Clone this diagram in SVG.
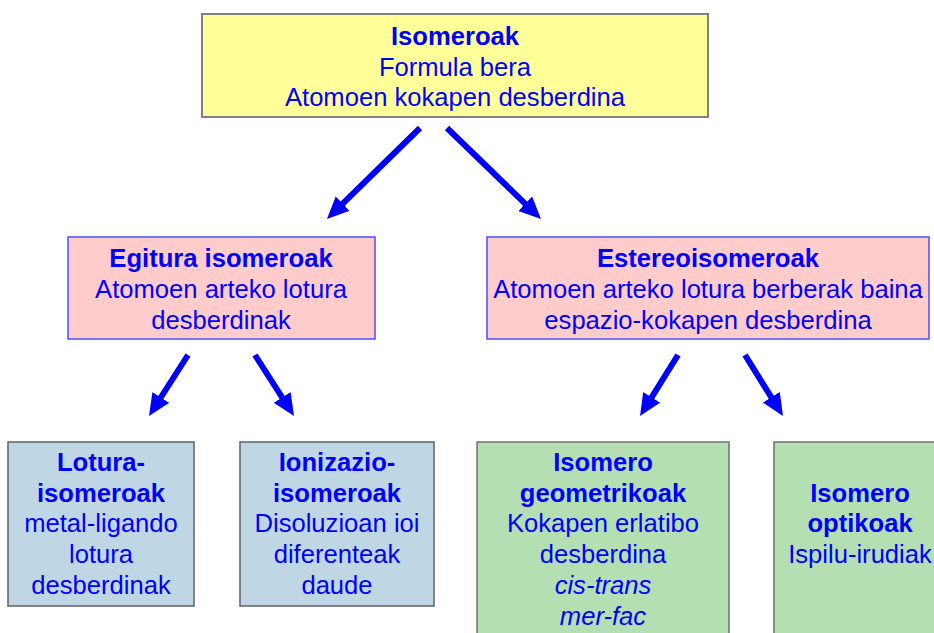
<svg xmlns="http://www.w3.org/2000/svg" width="934" height="633" viewBox="0 0 934 633">
<defs>
<marker id="ah" markerUnits="userSpaceOnUse" markerWidth="24" markerHeight="22" refX="6" refY="10" orient="auto">
<path d="M0,0 L22,10 L0,20 z" fill="#0000FF"/>
</marker>
<style>
text{font-family:"Liberation Sans",Arial,sans-serif;font-size:25.6px;fill:#0000FF;text-anchor:middle}
.b{font-weight:bold}
.i{font-style:italic}
.yel{fill:#FFFF99;stroke:#808080;stroke-width:2}
.pink{fill:#FFCCCC;stroke:#4D4DFF;stroke-width:1.5}
.blue{fill:#BFD7E4;stroke:#606060;stroke-width:1.5}
.green{fill:#B3DFB3;stroke:#707070;stroke-width:1.5}
.arr{stroke:#0000FF;stroke-width:6;fill:none;marker-end:url(#ah)}
</style>
</defs>
<rect width="934" height="633" fill="#FFFFFF"/>
<g id="connectors">
<line class="arr" x1="420" y1="128" x2="338.4" y2="207.8"/>
<line class="arr" x1="447" y1="128" x2="529.5" y2="207.9"/>
<line class="arr" x1="188" y1="355" x2="157.6" y2="402.5"/>
<line class="arr" x1="255" y1="355" x2="285.4" y2="402.5"/>
<line class="arr" x1="678" y1="355" x2="648.5" y2="402.4"/>
<line class="arr" x1="745" y1="355" x2="774.5" y2="402.4"/>
</g>
<g id="isomeroak">
<rect class="yel" x="202" y="14" width="506" height="103"/>
<text class="b" x="455" y="45">Isomeroak</text>
<text x="455" y="76">Formula bera</text>
<text x="455" y="106">Atomoen kokapen desberdina</text>
</g>
<g id="egitura">
<rect class="pink" x="68" y="237" width="307" height="102"/>
<text class="b" x="221" y="267">Egitura isomeroak</text>
<text x="221" y="298">Atomoen arteko lotura</text>
<text x="221" y="329">desberdinak</text>
</g>
<g id="estereo">
<rect class="pink" x="487" y="237" width="442" height="102"/>
<text class="b" x="708" y="267">Estereoisomeroak</text>
<text x="708" y="298">Atomoen arteko lotura berberak baina</text>
<text x="708" y="329">espazio-kokapen desberdina</text>
</g>
<g id="lotura">
<rect class="blue" x="8" y="442" width="186" height="164"/>
<text class="b" x="101" y="471">Lotura-</text>
<text class="b" x="101" y="502">isomeroak</text>
<text x="101" y="532">metal-ligando</text>
<text x="101" y="563">lotura</text>
<text x="101" y="594">desberdinak</text>
</g>
<g id="ionizazio">
<rect class="blue" x="240" y="442" width="194" height="164"/>
<text class="b" x="337" y="471">Ionizazio-</text>
<text class="b" x="337" y="502">isomeroak</text>
<text x="337" y="532">Disoluzioan ioi</text>
<text x="337" y="563">diferenteak</text>
<text x="337" y="594">daude</text>
</g>
<g id="geometrikoak">
<rect class="green" x="477" y="442" width="252" height="200"/>
<text class="b" x="603" y="471">Isomero</text>
<text class="b" x="603" y="502">geometrikoak</text>
<text x="603" y="532">Kokapen erlatibo</text>
<text x="603" y="563">desberdina</text>
<text class="i" x="603" y="594">cis-trans</text>
<text class="i" x="603" y="625">mer-fac</text>
</g>
<g id="optikoak">
<rect class="green" x="774" y="442" width="200" height="200"/>
<text class="b" x="860" y="502">Isomero</text>
<text class="b" x="860" y="532">optikoak</text>
<text x="860" y="563">Ispilu-irudiak</text>
</g>
</svg>
